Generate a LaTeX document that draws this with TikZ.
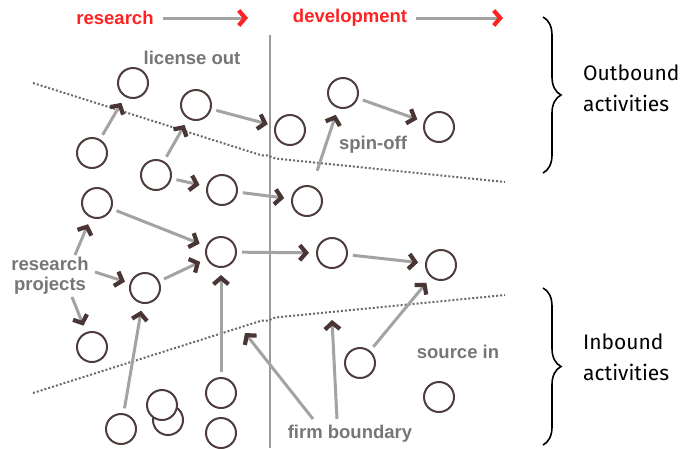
\documentclass[tikz,border=0pt]{standalone}
\usepackage{fontspec}
\setmainfont{Liberation Sans}
\newfontfamily\sidefont{Fira Sans}
\usetikzlibrary{arrows.meta,decorations.pathreplacing}

\definecolor{ringcol}{HTML}{4F3D3D}
\definecolor{headcol}{HTML}{4A3535}
\definecolor{shaftcol}{HTML}{A3A3A3}
\definecolor{labelcol}{HTML}{767676}
\definecolor{phasecol}{HTML}{FF2222}
\definecolor{dotcol}{HTML}{6A6A6A}
\definecolor{axiscol}{HTML}{9A9A9A}

\tikzset{
  project/.style={circle, draw=ringcol, line width=2pt, fill=white,
    minimum size=30pt, inner sep=0pt},
  flow/.style={draw=shaftcol, line width=3pt,
    -{Straight Barb[length=6.5pt,width=15pt,line width=4.2pt,color=headcol]},
    shorten <=5pt, shorten >=7pt},
  pointer/.style={draw=shaftcol, line width=3pt,
    -{Straight Barb[length=6.5pt,width=15pt,line width=4.2pt,color=headcol]}},
  phasearrow/.style={draw=shaftcol, line width=3pt,
    -{Straight Barb[length=6.5pt,width=15pt,line width=4.2pt,color=phasecol]}},
  tag/.style={text=labelcol, font=\fontsize{18.5}{20}\selectfont\bfseries, inner sep=0pt},
  phase/.style={text=phasecol, font=\fontsize{18.5}{20}\selectfont\bfseries, inner sep=0pt},
  boundary/.style={draw=dotcol, line width=2pt, dash pattern=on 2pt off 2pt},
  sidelabel/.style={font=\sidefont\fontsize{21}{31}\selectfont, align=left,
    anchor=west, inner sep=0pt},
  bracket/.style={draw=black, line width=1.6pt,
    decorate, decoration={brace, amplitude=18pt}}
}

\begin{document}
\begin{tikzpicture}[x=1pt, y=-1pt]
\useasboundingbox (0,0) rectangle (698,448);

% research / development divide
\draw[axiscol, line width=1.5pt] (270,35) -- (270,448);

% firm boundaries
\draw[boundary] (33,83) -- (262,155.5) to[out=17,in=185] (280,159) -- (505,182);
\draw[boundary] (33,393) -- (262,320.5) to[out=-17,in=175] (280,317) -- (505,295);

% phase headers
\node[phase] (res) at (115,18) {research};
\node[phase] (dev) at (350,18) {development};
\coordinate (resA) at (163,18);
\coordinate (resB) at (248,18);
\coordinate (devA) at (416,18);
\coordinate (devB) at (503,18);
\draw[phasearrow] (resA) -- (resB);
\draw[phasearrow] (devA) -- (devB);

% projects
\node[project] (a) at (133,83) {};
\node[project] (b) at (92,153) {};
\node[project] (c) at (196,105) {};
\node[project] (d) at (290,130) {};
\node[project] (e) at (156,175) {};
\node[project] (f) at (222,190) {};
\node[project] (g) at (97,203) {};
\node[project] (h) at (307,201) {};
\node[project] (i) at (343,93) {};
\node[project] (j) at (439,127) {};
\node[project] (k) at (221,252) {};
\node[project] (l) at (145,288) {};
\node[project] (m) at (92,347) {};
\node[project] (n) at (332,253) {};
\node[project] (o) at (121,429) {};
\node[project] (p2) at (168,420) {};
\node[project] (p1) at (162,405) {};
\node[project] (q) at (221,393) {};
\node[project] (r) at (221,433) {};
\node[project] (t) at (441,265) {};
\node[project] (u) at (360,363) {};
\node[project] (v) at (439,397) {};

% labels
\node[tag] (lic) at (192,58) {license out};
\node[tag] (spin) at (373,145) {spin-off};
\node[tag] (src) at (458,352) {source in};
\node[tag] (firm) at (350,434) {firm boundary};
\node[tag, align=center] (rp) at (50,276) {research\\projects};

% project flows
\draw[flow] (b) -- (a);
\draw[flow] (c) -- (d);
\draw[flow] (e) -- (c);
\draw[flow] (e) -- (f);
\draw[flow] (f) -- (h);
\draw[flow, shorten <=16pt] (h) -- (i);
\draw[flow] (i) -- (j);
\draw[flow] (g) -- (k);
\draw[flow] (l) -- (k);
\draw[flow] (k) -- (n);
\draw[flow] (n) -- (t);
\draw[flow] (o) -- (l);
\draw[flow] (q) -- (k);
\draw[flow] (u) -- (t);

% research projects pointers
\coordinate (rp1) at (75,255);
\coordinate (rp2) at (95,272);
\coordinate (rp3) at (72,297);
\draw[flow, shorten <=0pt] (rp1) -- (g);
\draw[flow, shorten <=0pt, shorten >=5pt] (rp2) -- (l);
\draw[flow, shorten <=0pt] (rp3) -- (m);

% firm boundary pointers
\coordinate (fb1) at (313,419);
\coordinate (fb2) at (337,419);
\coordinate (fbA) at (245,333);
\coordinate (fbB) at (332,320);
\draw[pointer] (fb1) -- (fbA);
\draw[pointer] (fb2) -- (fbB);

% activity braces
\coordinate (obT) at (543,17);
\coordinate (obB) at (543,173);
\coordinate (ibT) at (543,288);
\coordinate (ibB) at (543,445);
\draw[bracket] (obT) -- (obB);
\draw[bracket] (ibT) -- (ibB);
\node[sidelabel] (outb) at (583,88) {Outbound\\activities};
\node[sidelabel] (inb) at (583,357) {Inbound\\activities};
\end{tikzpicture}
\end{document}
